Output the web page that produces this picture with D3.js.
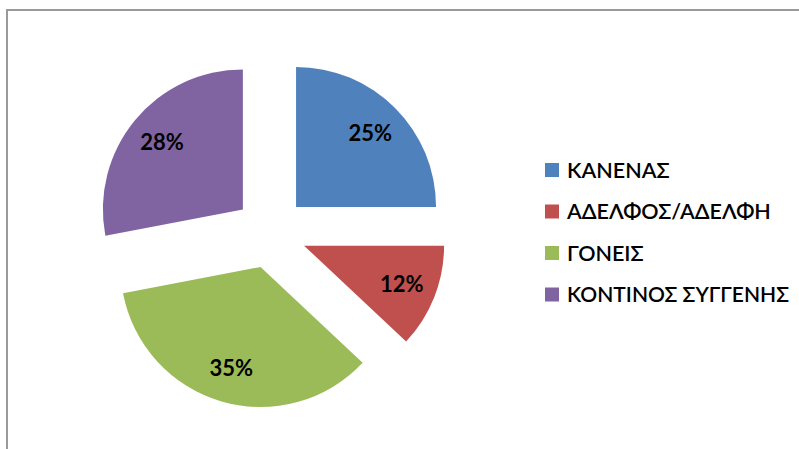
<!DOCTYPE html>
<html lang="el">
<head>
<meta charset="utf-8" />
<title>Pie</title>
<script src="https://d3js.org/d3.v7.min.js"></script>
<style>
    body { margin: 0; background: #fff; }
    text { font-family: Lato, "Open Sans", "DejaVu Sans", sans-serif; }
</style>
</head>
<body>
<svg width="799" height="449"></svg>
<script>
    var categories = ["ΚΑΝΕΝΑΣ", "ΑΔΕΛΦΟΣ/ΑΔΕΛΦΗ", "ΓΟΝΕΙΣ", "ΚΟΝΤΙΝΟΣ ΣΥΓΓΕΝΗΣ"];
    var values = [25, 12, 35, 28];
    var colors = ["#4F81BD", "#C0504D", "#9BBB59", "#8064A2"];

    var svg = d3.select("svg");

    // chart frame
    svg.append("path")
        .attr("d", "M7,449V10H799")
        .attr("fill", "none")
        .attr("stroke", "#9a9a9a")
        .attr("stroke-width", 2);

    var cx = 270.6, cy = 232.4, radius = 140, explode = 36, labelR = 141;

    var pie = d3.pie().sort(null).value(function (d) { return d; });
    var arc = d3.arc().innerRadius(0).outerRadius(radius);
    var arcs = pie(values);

    var g = svg.append("g").attr("transform", "translate(" + cx + "," + cy + ")");

    function offset(d, r) {
        var a = (d.startAngle + d.endAngle) / 2;
        return [Math.sin(a) * r, -Math.cos(a) * r];
    }

    g.selectAll(".slice")
        .data(arcs)
        .enter().append("path")
        .attr("class", "slice")
        .attr("d", arc)
        .attr("fill", function (d, i) { return colors[i]; })
        .attr("transform", function (d) { var o = offset(d, explode); return "translate(" + o[0] + "," + o[1] + ")"; });

    g.selectAll(".lbl")
        .data(arcs)
        .enter().append("text")
        .attr("class", "lbl")
        .attr("x", function (d) { return offset(d, labelR)[0]; })
        .attr("y", function (d) { return offset(d, labelR)[1]; })
        .attr("text-anchor", "middle")
        .attr("dy", "0.36em")
        .attr("font-size", 22)
        .attr("font-weight", "bold")
        .attr("fill", "#000")
        .text(function (d) { return d.value + "%"; });

    var legend = svg.append("g").attr("transform", "translate(545,170)");
    var rows = legend.selectAll("g")
        .data(categories)
        .enter().append("g")
        .attr("transform", function (d, i) { return "translate(0," + (i * 41.5) + ")"; });
    rows.append("rect")
        .attr("x", 0).attr("y", -7)
        .attr("width", 14).attr("height", 14)
        .attr("fill", function (d, i) { return colors[i]; });
    rows.append("text")
        .attr("x", 22)
        .attr("dy", "0.36em")
        .attr("font-size", 21.5)
        .attr("font-weight", 600)
        .attr("fill", "#000")
        .text(function (d) { return d; })
        .each(function () {
            // keep the longest entry within the frame, as in the reference
            var w = this.getComputedTextLength();
            if (w > 222) d3.select(this).attr("textLength", 222).attr("lengthAdjust", "spacingAndGlyphs");
        });
</script>
</body>
</html>
